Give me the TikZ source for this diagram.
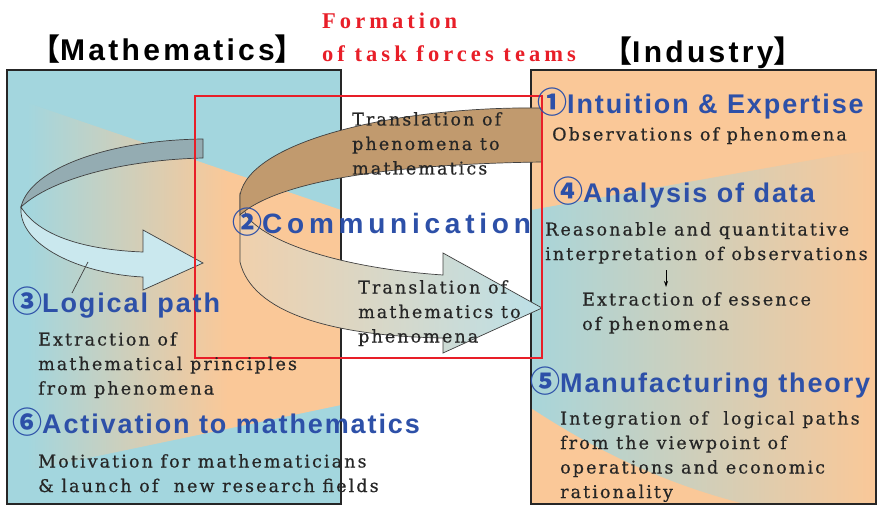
\documentclass[tikz,border=0pt]{standalone}
\usepackage{fontspec}
\usetikzlibrary{arrows.meta}
\newfontfamily\bodyfont{DejaVu Serif}[LetterSpace=12, FakeBold=0.6]
\newfontfamily\headfont{Liberation Sans}[LetterSpace=7]
\newfontfamily\commfont{Liberation Sans}[LetterSpace=17]
\newfontfamily\titlefont{Liberation Sans}[LetterSpace=11]
\newfontfamily\teamfont{Liberation Serif}[LetterSpace=18]
\newfontfamily\cjk{Noto Sans CJK JP}
\definecolor{MathBlue}{RGB}{163,214,222}
\definecolor{IndPeach}{RGB}{250,200,152}
\definecolor{HeadBlue}{RGB}{45,80,168}
\definecolor{TeamRed}{RGB}{232,30,40}
\definecolor{LoopTeal}{RGB}{148,172,178}
\definecolor{LoopLight}{RGB}{202,232,238}
\definecolor{LoopBrown}{RGB}{193,154,110}
\definecolor{BandBeige}{RGB}{240,208,172}
\definecolor{BandBlue}{RGB}{188,224,232}
\pgfdeclarehorizontalshading{mathband}{100bp}{color(0bp)=(MathBlue); color(28bp)=(MathBlue); color(58bp)=(IndPeach); color(100bp)=(IndPeach)}
\pgfdeclarehorizontalshading{indband}{100bp}{color(0bp)=(MathBlue); color(22bp)=(MathBlue); color(75bp)=(IndPeach); color(100bp)=(IndPeach)}
\newcommand{\cnum}[1]{{\cjk\bfseries\fontsize{30}{30}\selectfont #1}}
\tikzset{
    heading/.style={font=\headfont\bfseries\fontsize{27}{30}\selectfont, text=HeadBlue, inner sep=0pt, anchor=base west},
    bodytext/.style={font=\bodyfont\fontsize{17.5}{24.5}\selectfont, text=black!85, align=left, inner sep=0pt, anchor=north west},
    sidetitle/.style={font=\titlefont\bfseries\fontsize{30}{34}\selectfont, inner sep=0pt, anchor=base west},
    teamtitle/.style={font=\teamfont\bfseries\fontsize{22.5}{33}\selectfont, text=TeamRed, align=left, inner sep=0pt, anchor=north west},
    loopline/.style={draw=black!75, line width=0.7pt},
    boxline/.style={draw=black!85, line width=1.3pt}
}

\begin{document}
\begin{tikzpicture}[x=1pt, y=-1pt]
\useasboundingbox (0,0) rectangle (877,506);

% Backgrounds
\fill[MathBlue] (7,70) rectangle (341,504);
\shade[shading=mathband] (7,96) -- (341,210) -- (341,405) -- (7,475) -- cycle;
\fill[IndPeach] (531,70) rectangle (876,504);
\shade[shading=indband] (531,210) -- (840,155) -- (876,150) -- (876,504) -- (745,504)
    .. controls (650,480) and (580,440) .. (531,408) -- cycle;
\draw[boxline] (7,70) rectangle (341,504);
\draw[boxline] (531,70) rectangle (876,504);

% Logical path loop
\fill[LoopLight, loopline] (21,207) .. controls (40,238) and (90,250) .. (143,252)
    -- (143,230) -- (203,263) -- (143,290) -- (143,277)
    .. controls (80,274) and (18,245) .. (21,207) -- cycle;
\fill[LoopTeal, loopline] (203,139) .. controls (110,140) and (30,168) .. (21,207)
    .. controls (50,180) and (120,160) .. (203,158) -- cycle;

% Communication loop
\shade[left color=BandBeige, right color=BandBlue, loopline] (240,195) -- (240,262)
    .. controls (252,312) and (330,336) .. (443,338) -- (443,353) -- (542,308)
    -- (443,253) -- (443,275) .. controls (340,268) and (265,242) .. (246,215) -- cycle;
\fill[LoopBrown, loopline] (542,108) .. controls (400,106) and (250,140) .. (240,195)
    -- (240,215) .. controls (262,195) and (330,165) .. (542,162) -- cycle;

% Task force frame
\draw[TeamRed, line width=1.4pt] (195,96) rectangle (542,358);

% Titles
\node[sidetitle] (mathtitle) at (30,60) {{\cjk 【}Mathematics{\cjk 】}};
\node[sidetitle] (indtitle) at (602,62) {{\cjk 【}Industry{\cjk 】}};
\node[teamtitle] (teams) at (322,13) {Formation\\of task forces teams};

% Communication
\node[bodytext] (phen2math) at (352,112) {Translation of\\phenomena to\\mathematics};
\node[heading, font=\commfont\bfseries\fontsize{28}{32}\selectfont] (comm) at (232,233) {\cnum{②}Communication};
\node[bodytext] (math2phen) at (358,280) {Translation of\\mathematics to\\phenomena};

% Industry side
\node[heading] (intuition) at (537,113) {\cnum{①}Intuition \& Expertise};
\node[bodytext] (observe) at (552,127) {Observations of phenomena};
\node[heading] (analysis) at (553,202) {\cnum{④}Analysis of data};
\node[bodytext] (interpret) at (545,222) {Reasonable and quantitative\\interpretation of observations};
\node[bodytext] (essence) at (582,292) {Extraction of essence\\of phenomena};
\node[heading] (manufact) at (530,392) {\cnum{⑤}Manufacturing theory};
\node[bodytext] (integrate) at (560,411) {Integration of\ \ logical paths\\from the viewpoint of\\operations and economic\\rationality};

% Mathematics side
\node[heading] (logical) at (12,312) {\cnum{③}Logical path};
\node[bodytext] (principle) at (38,332) {Extraction of\\mathematical principles\\from phenomena};
\node[heading] (activate) at (12,433) {\cnum{⑥}Activation to mathematics};
\node[bodytext] (motivate) at (38,454) {Motivation for mathematicians\\\&\ launch of\ \ new research fields};

% Leader and small arrow
\coordinate (lpin) at (88,262);
\coordinate (lfoot) at (72,293);
\draw[black!75, line width=0.7pt] (lpin) -- (lfoot);
\coordinate (essup) at (666,270);
\coordinate (essdown) at (666,287);
\draw[-{Stealth[length=6pt, width=4pt]}, line width=0.8pt] (essup) -- (essdown);

\end{tikzpicture}
\end{document}
